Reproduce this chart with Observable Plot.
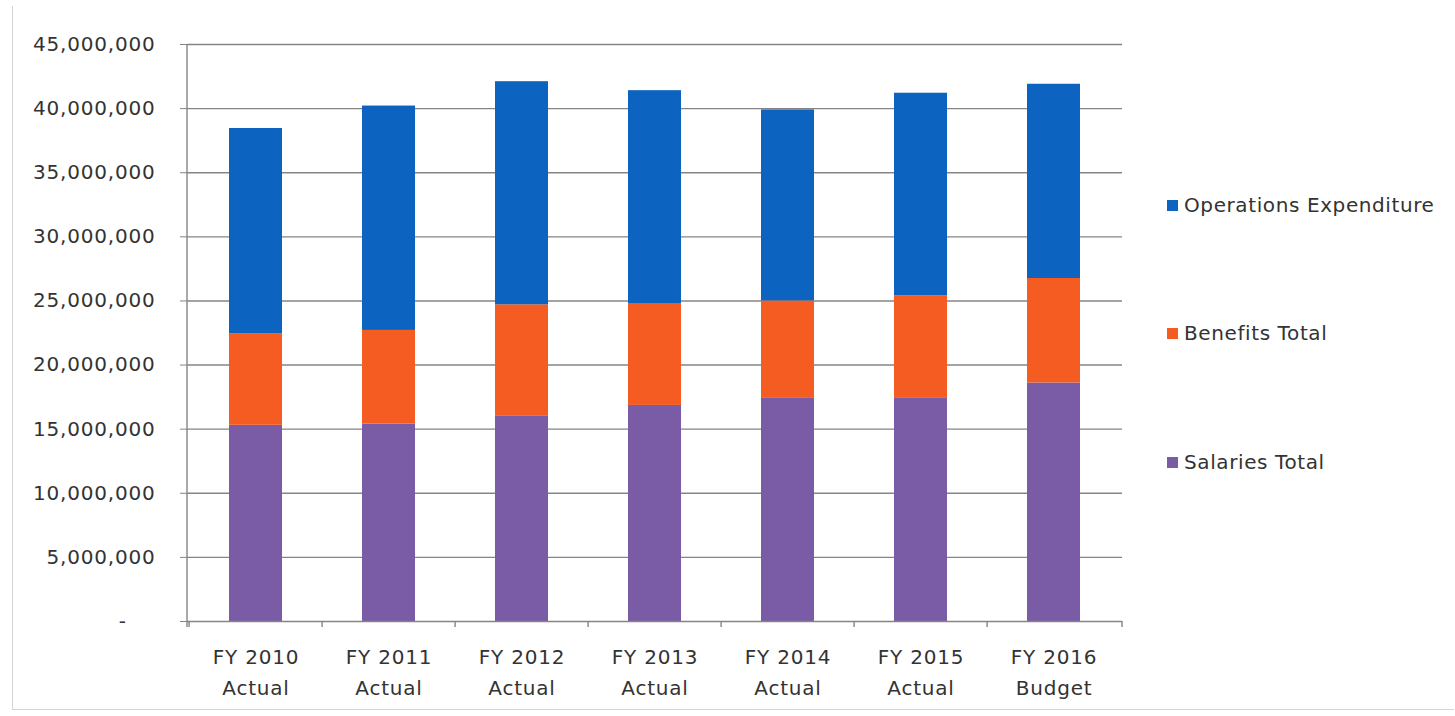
<!DOCTYPE html>
<html><head><meta charset="utf-8">
<script src="https://cdn.jsdelivr.net/npm/d3@7"></script>
<script src="https://cdn.jsdelivr.net/npm/@observablehq/plot@0.6"></script>
<style>
body{margin:0;background:#fff;}
#wrap{position:relative;width:1455px;height:716px;font-family:"DejaVu Sans",sans-serif;overflow:hidden}
#frame{position:absolute;left:12px;top:6px;width:1441px;height:703px;border-left:1px solid #d4d4d4;border-bottom:1px solid #d4d4d4;pointer-events:none}
#chart{position:absolute;left:0;top:0}
#legend{position:absolute;left:1167px;top:0}
.item{position:absolute;left:0;white-space:nowrap;font-size:20px;letter-spacing:0.6px;color:#333;display:flex;align-items:center;height:24px}
.sw{width:11px;height:11px;margin-right:6px;flex:none}
</style></head><body>
<div id="wrap"><div id="chart"></div><div id="legend"></div><div id="frame"></div></div>
<script>
// ---- data ----
const categories = ["FY 2010 Actual","FY 2011 Actual","FY 2012 Actual","FY 2013 Actual","FY 2014 Actual","FY 2015 Actual","FY 2016 Budget"];
const salariesTotal = [15300000,15400000,16000000,16850000,17400000,17400000,18600000];
const benefitsTotal = [7150000,7300000,8700000,7950000,7600000,8000000,8150000];
const operationsExpenditure = [16000000,17500000,17400000,16600000,14900000,15800000,15150000];
const seriesNames = ["Salaries Total","Benefits Total","Operations Expenditure"];
const seriesColors = ["#7a5ba6","#f45c22","#0c64c0"];
const yTicks = [0,5000000,10000000,15000000,20000000,25000000,30000000,35000000,40000000,45000000];
const legendOrder = ["Operations Expenditure","Benefits Total","Salaries Total"];

const seriesValues = [salariesTotal, benefitsTotal, operationsExpenditure];
const rows = [];
categories.forEach((c,i)=>{
  seriesNames.forEach((s,j)=>rows.push({cat:c, series:s, value:seriesValues[j][i]}));
});

const fmt = d3.format(",");
const gridColor = "#858585";

// custom mark: left axis line + category boundary ticks under the x axis
const axisLines = Plot.ruleY([0], {
  render(index, scales, values, dims) {
    const x = scales.x;
    const g = d3.create("svg:g").attr("stroke", gridColor).attr("stroke-width", 1.4).attr("fill","none");
    const left = dims.marginLeft, right = dims.width - dims.marginRight;
    const top = dims.marginTop, bottom = dims.height - dims.marginBottom;
    g.append("line").attr("x1", left).attr("x2", left).attr("y1", top).attr("y2", bottom + 6);
    const step = x.step ? x.step() : (right-left)/categories.length;
    const po = x.paddingOuter ? x.paddingOuter() : 0.3;
    const edges = categories.map(c => x(c) - step*po).concat([right]);
    edges.forEach(e => g.append("line").attr("x1", e).attr("x2", e).attr("y1", bottom).attr("y2", bottom + 6));
    return g.node();
  }
});

const chart = Plot.plot({
  width: 1455, height: 716,
  marginLeft: 187, marginRight: 333, marginTop: 44, marginBottom: 95,
  style: {fontFamily: "DejaVu Sans", fontSize: "20px", letterSpacing: "0.8px", color: "#333", background: "transparent"},
  x: {domain: categories, paddingInner: 0.6, paddingOuter: 0.3, label: null},
  y: {domain: [0, 45000000], label: null},
  color: {domain: seriesNames, range: seriesColors},
  marks: [
    Plot.ruleY(yTicks.slice(1), {stroke: gridColor, strokeWidth: 1.4}),
    Plot.barY(rows, {x: "cat", y: "value", fill: "series"}),
    Plot.ruleY([0], {stroke: gridColor, strokeWidth: 1.4}),
    axisLines,
    Plot.axisY({ticks: yTicks, tickFormat: d => d === 0 ? "-\u00a0\u00a0\u00a0\u00a0" : fmt(d), tickSize: 7, tickPadding: 25, stroke: gridColor, fontSize: 20, label: null}),
    Plot.axisX({tickSize: 0, tickPadding: 20, fontSize: 20, lineHeight: 1.55, tickFormat: d => d.replace(/ (\S+)$/, "\n$1"), label: null})
  ]
});
document.getElementById("chart").appendChild(chart);

// legend
const legendTops = {"Operations Expenditure": 193, "Benefits Total": 321, "Salaries Total": 450};
const legend = document.getElementById("legend");
legendOrder.forEach(name => {
  const it = document.createElement("div");
  it.className = "item";
  it.style.top = legendTops[name] + "px";
  const sw = document.createElement("span");
  sw.className = "sw";
  sw.style.background = seriesColors[seriesNames.indexOf(name)];
  it.appendChild(sw);
  it.appendChild(document.createTextNode(name));
  legend.appendChild(it);
});
</script>
</body></html>
